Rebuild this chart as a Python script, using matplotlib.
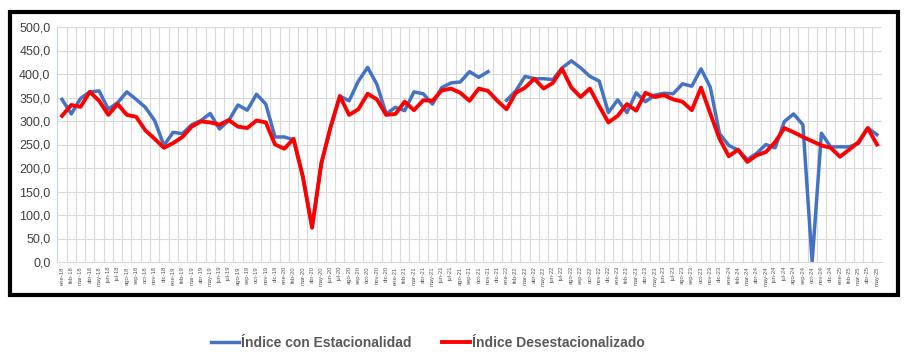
import matplotlib
matplotlib.use("Agg")
import matplotlib.pyplot as plt
from matplotlib.patches import Rectangle
from matplotlib.ticker import FuncFormatter, MultipleLocator

# Meses ene-18 .. may-25
mesesAbr = ["ene", "feb", "mar", "abr", "may", "jun", "jul", "ago", "sep", "oct", "nov", "dic"]
etiquetas = []
for anio in range(18, 26):
    for m in mesesAbr:
        etiquetas.append(m + "-" + str(anio))
etiquetas = etiquetas[:89]

# Indice con Estacionalidad (dic-21 sin dato)
conEstacionalidad = [
    346, 315, 348, 362, 364, 325, 339, 362, 346, 329, 301, 248,
    276, 273, 292, 301, 316, 283, 301, 334, 323, 357, 336, 266,
    266, 260, 182, 73, 210, 287, 353, 343, 385, 414, 378, 315,
    329, 322, 362, 358, 336, 371, 381, 383, 405, 393, 405, None,
    344, 364, 395, 390, 390, 388, 413, 428, 413, 395, 385, 318,
    345, 318, 360, 341, 355, 359, 358, 379, 374, 411, 372, 273,
    248, 238, 218, 231, 250, 243, 299, 315, 292, 0, 274, 245,
    245, 245, 252, 285, 271,
]

# Indice Desestacionalizado
desestacionalizado = [
    311, 334, 330, 362, 343, 313, 336, 313, 309, 280, 262, 243,
    253, 266, 288, 299, 297, 292, 302, 288, 285, 301, 297, 250,
    241, 262, 182, 73, 210, 287, 353, 313, 325, 358, 346, 313,
    315, 341, 323, 344, 343, 365, 369, 360, 343, 369, 364, 343,
    325, 360, 371, 390, 369, 381, 411, 371, 351, 369, 332, 297,
    311, 336, 322, 360, 351, 355, 346, 341, 323, 371, 316, 262,
    225, 239, 213, 227, 234, 255, 285, 276, 266, 257, 248, 243,
    224, 239, 255, 285, 250,
]

plt.rcParams["font.family"] = ["Liberation Sans", "DejaVu Sans"]

fig = plt.figure(figsize=(9.11, 3.57), dpi=100)
ax = fig.add_axes([57.4 / 911, 1 - 262 / 357, (881.6 - 57.4) / 911, (262 - 27) / 357])

x = list(range(len(etiquetas)))
yBlue = [float("nan") if v is None else v for v in conEstacionalidad]
ax.plot(x, yBlue, color="#4472C4", lw=2.5, label="Índice con Estacionalidad", zorder=3)
ax.plot(x, desestacionalizado, color="#FF0000", lw=2.8, label="Índice Desestacionalizado", zorder=4)

ax.set_xlim(-0.5, len(etiquetas) - 0.5)
ax.set_ylim(0, 500)
ax.yaxis.set_major_locator(MultipleLocator(50))
ax.yaxis.set_major_formatter(FuncFormatter(lambda v, p: ("%.1f" % v).replace(".", ",")))
ax.set_xticks(x)
ax.set_xticklabels(etiquetas, rotation=90, fontsize=4.2, color="#595959")
ax.set_xticks([i + 0.5 for i in x], minor=True)
ax.tick_params(axis="x", which="both", length=0, pad=3)
ax.tick_params(axis="y", length=0, labelsize=9, labelcolor="#404040", pad=5)

ax.grid(axis="y", which="major", color="#d9d9d9", lw=0.8)
ax.grid(axis="x", which="minor", color="#d9d9d9", lw=0.8)
ax.set_axisbelow(True)
for s in ["top", "right"]:
    ax.spines[s].set_visible(False)
ax.spines["left"].set_color("#c8d4e8")
ax.spines["bottom"].set_color("#d9d9d9")

# Marco negro
fig.patches.append(Rectangle((10 / 911, 1 - 295 / 357), 888 / 911, 283 / 357,
                             transform=fig.transFigure, fill=False, ec="black", lw=3))

fig.legend(loc="center", bbox_to_anchor=(428 / 911, 1 - 343 / 357), ncol=2, frameon=False,
           prop={"weight": "bold", "size": 10}, labelcolor="#595959",
           handlelength=2.0, handletextpad=0.15, columnspacing=2.2)

fig.savefig("out.png", dpi=100)
